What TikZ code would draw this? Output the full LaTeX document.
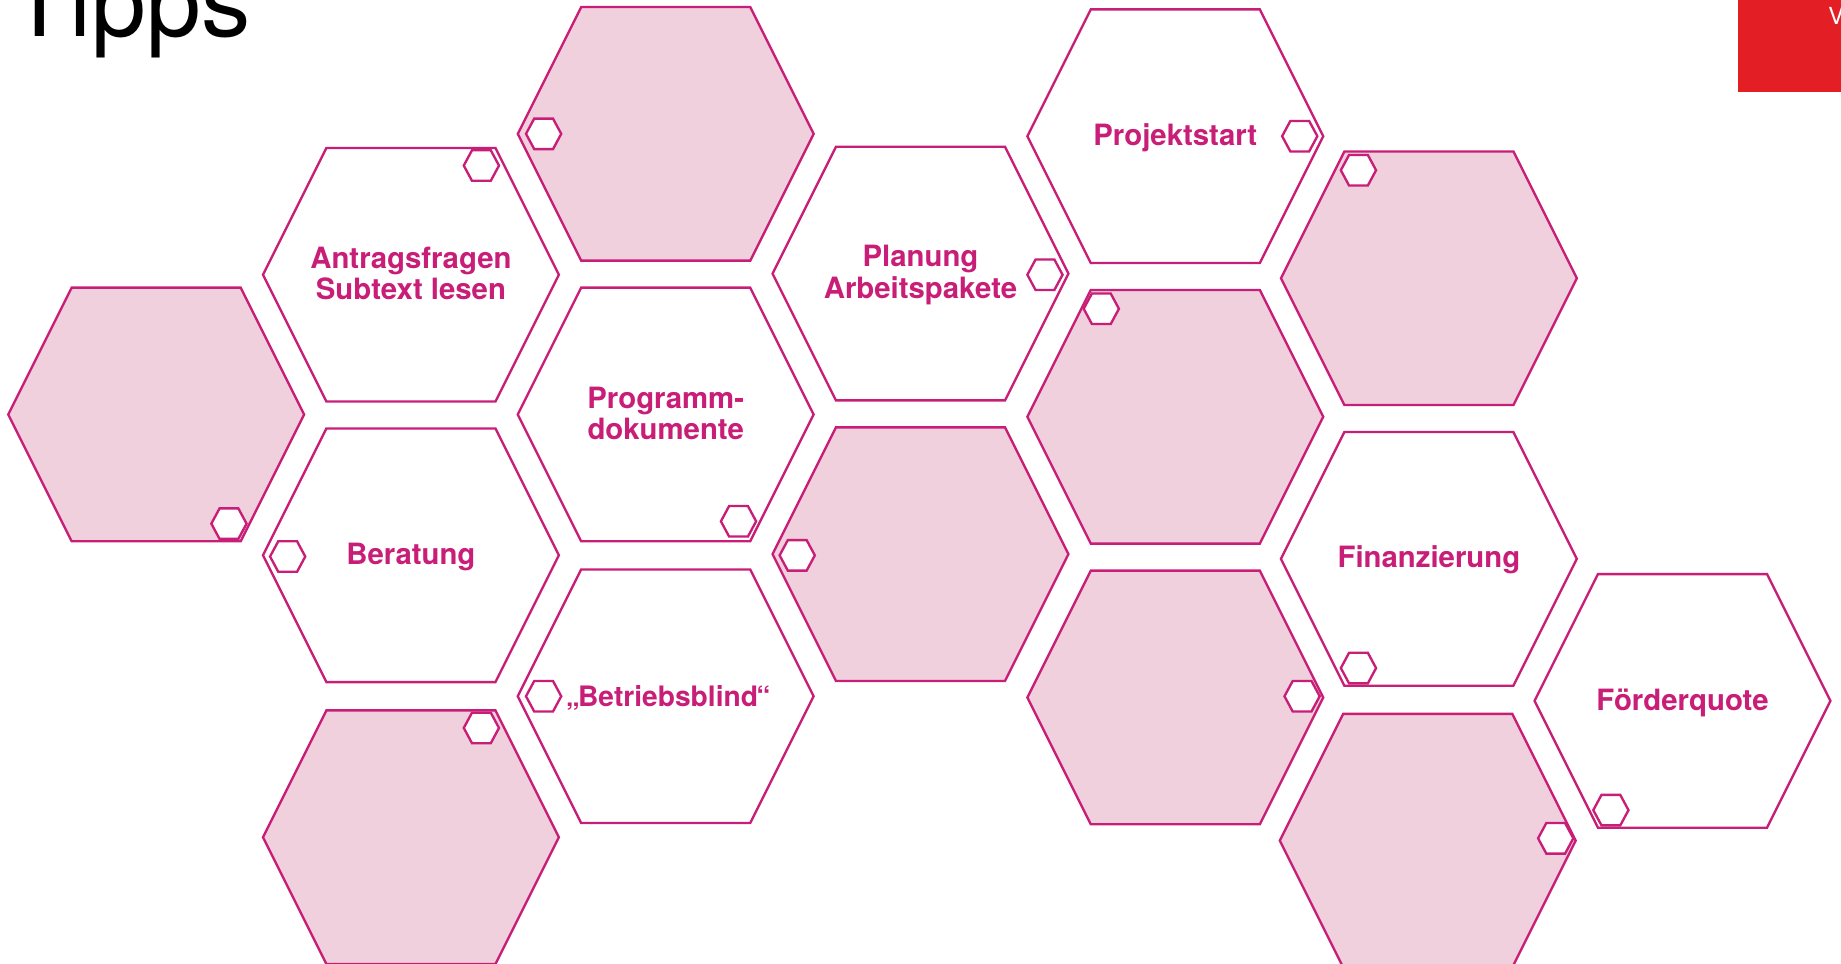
\documentclass[tikz,border=0pt]{standalone}
\usepackage{fontspec}
\setmainfont{TeX Gyre Heros}
\definecolor{mag}{HTML}{C81E78}
\definecolor{hexpink}{HTML}{EFD0DC}
\definecolor{tred}{HTML}{E31E24}
\newcommand\HexBig[3]{\draw[hexline, fill=#3, shift={(#1,#2)}] (-126,0) -- (-72,-108) -- (72,-108) -- (126,0) -- (72,108) -- (-72,108) -- cycle;}
\newcommand\HexSmall[2]{\draw[hexline, fill=white, shift={(#1,#2)}] (-15,0) -- (-8,-13) -- (8,-13) -- (15,0) -- (8,13) -- (-8,13) -- cycle;}
\begin{document}
\begin{tikzpicture}[x=1pt,y=-1pt,
  hexline/.style={draw=mag, line width=2pt, line join=miter},
  lbl/.style={text=mag, font=\fontsize{25}{27}\selectfont\bfseries, align=center, inner sep=0pt},
  lbl1/.style={lbl, text height=18pt, text depth=0pt}]
\useasboundingbox (0,0) rectangle (1568,821);
\clip (0,0) rectangle (1568,821);
% title and corner box
\node[font=\fontsize{84}{84}\selectfont, anchor=base west, inner sep=0pt] (tipps) at (8,31) {Tipps};
\fill[tred] (1480,0) rectangle (1568,78);
\node[text=white, font=\fontsize{20}{20}\selectfont, anchor=base west, inner sep=0pt] (vtext) at (1557,21) {V};
% pink hexagons
\HexBig{133}{353}{hexpink}
\HexBig{567}{114}{hexpink}
\HexBig{350}{713}{hexpink}
\HexBig{784}{472}{hexpink}
\HexBig{1001}{355}{hexpink}
\HexBig{1001}{594}{hexpink}
\HexBig{1217}{237}{hexpink}
\HexBig{1216}{716}{hexpink}
% white hexagons
\HexBig{350}{234}{white}
\HexBig{350}{473}{white}
\HexBig{567}{353}{white}
\HexBig{567}{593}{white}
\HexBig{784}{233}{white}
\HexBig{1001}{116}{white}
\HexBig{1217}{476}{white}
\HexBig{1433}{597}{white}
% small hexagons
\HexSmall{410}{141}
\HexSmall{463}{114}
\HexSmall{1107}{116}
\HexSmall{1157}{145}
\HexSmall{890}{234}
\HexSmall{938}{263}
\HexSmall{195}{446}
\HexSmall{245}{474}
\HexSmall{629}{444}
\HexSmall{679}{473}
\HexSmall{463}{593}
\HexSmall{410}{620}
\HexSmall{1109}{593}
\HexSmall{1157}{569}
\HexSmall{1325}{714}
\HexSmall{1372}{690}
% labels
\node[lbl] (antrag) at (350,233) {Antragsfragen\\Subtext lesen};
\node[lbl1] (beratung) at (350,472) {Beratung};
\node[lbl] (programm) at (567,352) {Programm-\\dokumente};
\node[lbl1, font=\fontsize{24}{26}\selectfont\bfseries, text height=17pt] (betrieb) at (569,593) {„\kern-1.5pt Betriebsblind\kern-1.5pt“};
\node[lbl] (planung) at (784,234.5) {Planung\\Arbeitspakete};
\node[lbl1] (projekt) at (1001,115) {Projektstart};
\node[lbl1] (finanz) at (1217,474) {Finanzierung};
\node[lbl1] (foerder) at (1433,596) {Förderquote};
\end{tikzpicture}
\end{document}
